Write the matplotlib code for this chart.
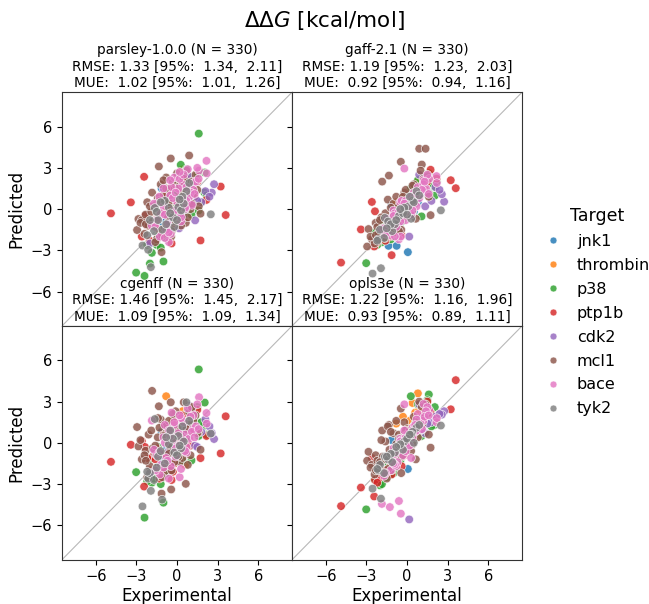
import matplotlib
matplotlib.use("Agg")
import matplotlib.pyplot as plt
from matplotlib.lines import Line2D

# targets (legend order) and colours
targets = ["jnk1", "thrombin", "p38", "ptp1b", "cdk2", "mcl1", "bace", "tyk2"]
colors = ["#1f77b4", "#ff7f0e", "#2ca02c", "#d62728", "#9467bd", "#8c564b", "#e377c2", "#7f7f7f"]

# experimental ddG per edge, grouped by target (one entry per target)
experimental = [
    [-1.14, -1.37, -0.77, 0.06, -0.5, 0.3, -0.9, 0.8, -0.2, 0.5,
     -0.6, -1.0, -0.3, 0.2, -0.8, 0.0, -1.2, 0.4],
    [0.4, -0.8, 0.8, 0.1, -0.3, 1.3, 0.6, 0.2, 0.9, -0.1],
    [1.61, 2.05, -3.02, -2.4, -1.0, -2.0, 0.28, 2.03, 1.07, -1.86, 0.8, 1.3, -0.5, 0.2, -1.5, 0.6, 1.8, -0.8, 0.0, 1.5, -1.2, 0.9, -0.3, 2.2, 0.5, -1.7,
     -0.1, 0.4, 1.0, -1.1, -0.6, 0.7, 1.6, -2.2, -0.4, 1.2, 0.1, -1.4],
    [-4.88, -3.41, 3.6, 3.23, -2.43, -2.6, 1.74, 2.18, -2.37, -1.14, -1.8, -0.6, 0.3, -1.3, 0.9, -0.2, 1.2, -2.0, 0.5, -0.9, 1.5, -1.6, 0.0, -0.4,
     -1.0, -0.3, 0.2, 0.7, -1.5, 1.0, -0.7, -2.2, 0.4, 1.3],
    [2.74, 2.57, 1.34, 0.16, -2.0, 0.5, 1.0, -0.6, 1.8, 0.9,
     1.5, 2.1, 0.3, 1.1, 2.4],
    [-2.95, -2.85, -1.34, -0.46, 0.9, 1.37, 1.09, -1.84, -1.14, -0.43, 0.65, 1.61, 1.74, -2.6, -2.32, -1.42, -2.1, -1.6, -1.0, -0.7,
     -0.2, 0.2, 0.5, 1.2, -2.4, -1.9, -0.9, 0.0, 0.8, 1.5, -1.2, -0.5, 0.3, -2.2, -1.5, -0.1, 1.0, -2.7, -0.8, 0.4,
     -1.8, -1.3, -0.6, 0.1, 0.6, -2.0, -1.1, -0.3, 0.9, -1.6, -0.8, 0.2, -2.3, -0.4, 1.1, -1.0, -0.2, 0.7, -1.4, -0.6],
    [2.18, 1.63, -1.86, -1.27, -0.6, -0.46, 1.22, -0.2, 2.2, -1.5, -1.0, -0.5, 0.0, 0.4, 0.8, 1.2, -0.8, -0.3, 0.2, 0.6,
     1.0, 1.5, -1.2, -0.7, 0.1, 0.5, -1.7, -0.1, 0.9, 1.4, -0.4, 0.3, 0.7, -0.9,
     -1.3, -0.9, -0.5, -0.1, 0.3, 0.7, 1.1, -1.6, -0.6, 0.2, 0.6, 1.3, -1.0, -0.2, 0.4, 1.6],
    [2.5, -2.55, -2.13, -1.93, -1.64, 0.7, -0.6, 0.1, -1.4, -2.0, -1.1, -0.3, 0.4, -0.9, 0.9, -1.7, -0.2, 0.3,
     -1.2, -0.5, 0.0, 0.5, -1.5, -0.8, 0.2, -2.2],
]

pred_parsley = [
    [1.52, -1.2, -0.6, -0.8, 0.4, 0.9, -0.3, 1.2, 0.2, -0.4,
     0.7, -1.6, 0.3, -0.2, -0.9, 1.0, -0.4, 0.1],
    [2.88, 1.2, 2.2, 0.8, 1.5, 1.9, 0.3, 1.0, 1.6, 0.4],
    [5.49, 2.66, -4.62, -4.86, -3.81, -3.96, 3.22, 1.2, -0.4, -3.18, 2.4, 2.0, -1.2, 0.8, -2.6, 1.6, 0.5, -2.1, -0.6, 2.5, -2.8, 1.9, 0.3, 1.0, -0.2, -1.0,
     1.1, -0.9, 0.6, -0.3, 0.4, 2.9, -0.1, -2.6, -1.5, 1.4, 1.8, -2.0],
    [-0.31, 0.49, -0.43, 1.64, 2.35, -2.0, -2.28, 0.67, -0.5, -1.8, -1.2, 0.2, 1.3, -1.5, 1.0, -0.6, 1.7, -2.3, 0.1, -0.2, 2.0, -1.0, 0.6, -2.5,
     0.9, -1.3, -0.4, 2.2, -0.7, 0.4, 1.1, -1.2, 1.8, 0.9],
    [1.81, 1.2, -0.82, -1.4, -2.5, 0.3, 0.9, -0.9, 0.5, 2.4,
     0.6, 1.3, -0.5, 1.8, 0.9],
    [-1.52, -0.72, 3.1, 3.68, 3.9, 2.5, 2.0, 1.2, -3.13, -2.0, -1.0, 0.2, -0.33, -0.8, -0.4, 0.8, -1.2, 0.3, 1.0, -0.5,
     1.6, 0.4, 2.2, 1.1, -1.8, -0.2, -1.4, 2.6, -0.6, 1.4, 1.8, 0.9, -1.2, 0.5, -2.2, -0.9, 0.0, -1.0, 2.3, 1.3,
     -0.9, 0.6, 1.4, -0.7, 0.9, 0.2, -1.9, 2.0, 1.1, -2.4, 1.5, 1.7, -1.1, -1.6, 0.4, 2.1, -0.4, 2.8, -0.6, 0.5],
    [3.51, 2.8, -1.2, -2.0, -2.4, -1.8, 1.9, 2.3, 2.6, -0.8, 0.2, 1.0, 0.5, 1.8, 2.9, 1.4, -1.5, 0.8, 2.2, 0.0,
     1.2, 3.0, -0.3, -1.1, 1.5, 2.5, 0.4, -0.5, 0.9, 2.0, 1.6, -0.9, 0.6, -2.1,
     0.9, -0.4, 2.1, 1.2, -0.6, 1.6, 0.3, -1.3, -1.7, 2.7, 0.1, 1.1, 1.5, -0.1, 0.7, 2.2],
    [-0.38, -2.65, -2.96, -4.22, 0.08, 1.3, 0.1, 0.15, -0.8, -0.8, -1.5, -0.6, 0.9, 0.6, 1.9, -1.6, -1.3, -0.1,
     0.5, -0.3, -0.8, 0.4, -0.2, -1.1, 0.7, -1.9],
]

pred_gaff = [
    [0.3, -2.67, -2.67, -3.13, -1.0, 0.2, -1.5, 0.5, -0.6, -0.2,
     -0.8, -1.9, -0.5, 0.0, -1.3, -0.1, -1.7, 0.3],
    [1.2, 0.5, 2.0, 0.4, 0.9, 1.7, 1.1, 0.6, 1.3, -0.2],
    [2.61, 0.98, -3.93, -1.7, -1.8, -1.0, 1.5, 1.6, -0.53, -2.4, 2.1, 1.2, -1.0, 0.4, -2.0, 0.9, 1.9, -1.5, 0.1, 2.3, -2.2, 1.4, -0.4, 2.0, 0.6, -1.3,
     0.2, -0.2, 1.3, -1.0, -0.7, 1.1, 1.2, -2.6, -0.9, 1.7, 0.4, -1.1],
    [-3.89, -1.48, 1.52, 2.1, -2.72, 0.52, 2.86, 2.22, -0.16, -3.35, -1.5, -0.8, 0.7, -2.0, 1.3, -0.3, 1.8, -1.6, 0.4, -1.2, 2.0, -2.3, -0.5, -1.9,
     -1.7, -0.1, 0.0, 1.0, -1.8, 1.1, -0.8, -2.4, 0.6, 1.4],
    [0.54, 1.08, 0.2, -2.0, -1.9, 0.8, 1.1, -1.0, 0.6, 2.5,
     1.2, 1.6, 0.1, 1.5, 1.4],
    [-2.72, -1.45, 2.44, 3.44, 4.39, 4.39, 3.24, 2.0, -1.2, -1.5, -0.7, 0.9, -0.44, -2.2, -1.0, 0.69, -1.8, -0.3, 0.4, -0.9,
     1.2, 0.3, 1.8, 2.2, -2.5, -0.6, -1.1, 0.8, 1.5, 2.4, 0.1, 0.5, -0.4, -1.3, -1.7, 1.4, 2.8, -2.0, 0.9, 1.7,
     -1.4, -0.9, 0.2, 0.5, 1.0, -0.8, -1.3, 0.9, 1.3, -2.1, -0.2, 0.8, -1.9, -0.6, 1.6, -0.4, 0.3, 1.2, -1.0, -1.6],
    [2.4, 2.2, -1.5, -1.9, -2.2, -2.0, 2.1, 2.95, 1.9, -0.7, -0.1, 0.5, 0.0, 1.0, 1.6, 1.8, -1.3, -0.2, 0.7, 0.4,
     1.3, 2.5, -1.0, -0.6, 0.3, 1.2, -1.4, -0.8, 0.8, 1.5, 0.6, -0.4, 1.1, -1.99,
     -1.1, -0.3, -0.9, 0.6, 0.9, 0.2, 1.4, -1.8, -0.2, 0.1, 1.0, 2.0, -0.5, 0.4, -0.1, 1.1],
    [-0.09, -4.69, -2.2, -4.3, -0.64, 1.3, -0.5, 0.2, -0.9, -1.5, -1.6, -0.3, 0.6, -1.1, 1.0, -2.1, 0.1, -0.7,
     -1.1, 0.0, -0.4, 0.5, -1.4, -0.8, 0.9, -2.3],
]

pred_cgenff = [
    [0.8, -0.9, -0.3, -0.5, -0.2, 1.4, -1.1, 0.6, 0.1, -0.5,
     -0.1, -1.4, 0.6, -0.4, -1.7, 0.5, -0.9, 1.1],
    [2.3, 3.39, 1.9, 0.6, 1.6, 2.4, -1.6, 0.9, 1.3, -0.4],
    [5.34, 2.93, -2.13, -5.44, -4.35, -1.19, 1.2, 1.25, -1.28, -2.9, 2.27, 1.8, -1.6, 0.7, -2.4, 1.1, 1.5, -2.2, -0.9, 2.6, -3.0, 1.7, -0.1, 0.6, -0.7, -2.6,
     0.3, -1.3, 1.9, -1.9, 0.1, 0.3, 0.5, -2.8, -2.0, 2.4, 1.0, -0.3],
    [-1.38, -0.14, 1.93, -0.77, -3.18, 0.13, -1.11, 0.5, -0.3, -2.2, -1.0, 0.8, 1.6, -2.6, 0.9, -1.5, 2.2, -2.0, 0.3, -0.8, 2.4, -1.2, 0.1, -2.7,
     0.6, -2.1, 1.1, 1.4, -0.4, -0.2, -1.7, -1.1, 2.0, 0.8],
    [0.28, 0.71, -0.2, -1.0, -2.2, 1.0, 1.4, -0.6, 0.8, 2.7,
     -0.3, 1.7, 0.5, 2.1, 1.2],
    [1.15, -0.26, 2.66, 2.95, 2.2, 2.0, 2.5, 3.78, -3.69, -3.39, -2.98, 0.8, -0.5, -1.2, -0.57, 0.4, 0.6, -0.8, 1.3, 0.0,
     1.9, -1.4, 2.95, 1.6, -0.9, 0.9, -2.1, 1.1, -1.6, 0.7, 1.7, -0.3, 0.5, -2.5, -1.8, 2.3, -0.9, 0.2, 1.2, -1.1,
     -0.4, 1.1, 1.6, -1.0, 0.3, -1.7, -2.5, 2.1, 1.4, -0.2, 0.7, -0.6, -1.3, -2.0, 2.6, 0.5, -1.4, 1.0, 1.8, -0.8],
    [2.17, 3.32, 1.62, -2.3, -2.6, -1.7, 2.0, 1.3, 1.4, -0.9, 0.4, 0.9, -0.2, 1.6, 2.5, 1.0, -1.1, 0.2, -2.5, 0.6,
     1.9, 2.8, -1.6, -1.3, 0.7, 1.5, -0.5, -0.4, 0.3, 1.2, 2.2, -1.9, -0.7, 0.0,
     -0.7, 1.3, 0.5, -1.0, 1.8, -0.3, 0.8, -2.0, 0.9, 2.0, -0.6, 0.4, -1.8, 1.5, 0.2, 1.0],
    [0.67, -4.62, -2.6, -3.49, 1.73, 2.95, -0.1, 0.5, -1.0, -2.2, -4.13, 0.3, 1.2, -1.5, 1.6, -2.7, -0.7, -0.4,
     -0.6, 0.9, -0.9, 0.1, -1.8, 0.4, -0.2, -2.1],
]

pred_opls = [
    [0.2, -1.8, -1.5, -1.9, -0.7, 0.5, -1.2, 1.0, -0.4, 0.3,
     -1.0, -1.3, -0.2, 0.6, -0.8, -0.3, -1.6, 0.5],
    [2.9, 1.4, 3.6, 1.0, 1.9, 2.6, 2.2, 1.6, 2.4, 0.7],
    [3.52, 2.6, -4.84, -2.69, -2.2, -3.09, 3.39, 1.3, 0.5, -3.0, 2.8, 1.9, -1.3, 0.5, -2.5, 1.4, 1.2, -1.8, -0.4, 3.1, -2.3, 1.6, 0.0, 1.9, 0.9, -2.0,
     0.1, 0.9, 1.5, -0.9, -0.6, 1.2, 2.2, -2.1, -1.0, 1.4, 0.8, -1.5],
    [-4.6, -3.25, 4.56, 2.44, -3.9, -1.1, 2.2, 1.7, -2.7, -2.3, -2.1, -0.6, 0.9, -1.8, 1.4, -0.9, 2.0, -2.5, 0.2, -1.5, 3.0, -2.0, -0.3, -1.7,
     -1.4, -0.3, 0.5, 1.1, -2.2, 1.6, -0.9, -2.9, 0.3, 1.8],
    [2.3, 2.05, 0.7, -5.57, -1.5, 1.2, 0.9, -0.4, 1.5, 2.8,
     1.4, 1.9, 0.6, 1.0, 2.1],
    [-1.3, -0.65, 1.3, 2.49, 3.0, 2.8, 2.6, 0.9, -2.0, -2.2, -1.2, 0.6, -0.35, -1.6, -0.9, 1.2, -1.9, 0.1, 0.7, -0.8,
     1.5, -0.3, 1.9, 1.8, -2.3, 0.2, -1.5, 1.0, 0.4, 2.1, 0.8, 0.0, -0.6, -1.3, -2.6, 0.9, 1.4, -1.8, 1.6, -0.1,
     -1.0, -0.5, 0.6, -0.2, 1.2, -1.4, -1.7, 0.4, 1.7, -1.2, -0.1, 0.9, -2.0, -1.0, 1.3, -0.6, 0.2, 1.0, -1.9, 0.3],
    [1.5, 2.4, -4.44, -4.67, -4.23, -5.15, 2.83, 2.8, 1.8, -1.0, -0.4, 0.3, 0.6, 1.1, 2.1, 1.6, -1.7, -0.9, 0.5, 0.8,
     1.4, 2.6, -2.0, -1.4, 0.0, 1.0, -2.4, -0.6, 1.2, 2.3, 0.2, -1.1, 0.9, -1.6,
     -1.2, -0.8, 0.1, 0.4, 0.7, 1.7, 1.0, -2.2, -0.3, -0.2, 1.3, 1.9, -1.5, 0.9, 0.4, 2.0],
    [1.26, -3.33, -2.0, -4.06, -1.0, 1.1, -0.2, 0.4, -1.2, -1.6, -1.4, -0.5, 0.8, -0.7, 1.3, -2.2, 0.1, 0.6,
     -0.8, -0.1, 0.3, 0.0, -1.0, -0.3, 0.6, -1.9],
]

# panel titles and statistics
forcefields = ["parsley-1.0.0", "gaff-2.1", "cgenff", "opls3e"]
n_edges = 330
rmse = [1.33, 1.19, 1.46, 1.22]
rmse_ci = [(1.34, 2.11), (1.23, 2.03), (1.45, 2.17), (1.16, 1.96)]
mue = [1.02, 0.92, 1.09, 0.93]
mue_ci = [(1.01, 1.26), (0.94, 1.16), (1.09, 1.34), (0.89, 1.11)]
predictions = [pred_parsley, pred_gaff, pred_cgenff, pred_opls]

ticks = [-6, -3, 0, 3, 6]
lim = (-8.5, 8.5)

fig = plt.figure(figsize=(6.49, 6.04), dpi=100)

# panel rectangles (figure fraction)
left = [0.0955, 0.4500]
bottom = [0.4603, 0.0733]
w, h = 0.3544, 0.3870

axes = []
for k in range(4):
    row, col = divmod(k, 2)
    ax = fig.add_axes([left[col], bottom[row], w, h])
    axes.append(ax)

for k, ax in enumerate(axes):
    row, col = divmod(k, 2)
    # flatten in target order so later targets sit on top
    xs, ys, cs = [], [], []
    for t, c in enumerate(colors):
        xs += experimental[t]
        ys += predictions[k][t]
        cs += [c] * len(experimental[t])
    ax.plot(lim, lim, color="0.72", lw=0.8, zorder=1)
    ax.scatter(xs, ys, s=38, c=cs, alpha=0.82, edgecolors="white", linewidths=0.5, zorder=2)

    ax.set_xlim(lim)
    ax.set_ylim(lim)
    ax.set_xticks(ticks)
    ax.set_yticks(ticks)
    ax.tick_params(labelsize=10.5, length=3.5, width=0.8)
    for s in ax.spines.values():
        s.set_linewidth(0.8)
        s.set_color("#333333")

    if col == 0:
        ax.set_ylabel("Predicted", fontsize=12)
    else:
        ax.tick_params(labelleft=False)
    if row == 1:
        ax.set_xlabel("Experimental", fontsize=12, labelpad=2)
    else:
        ax.tick_params(labelbottom=False)

    title = (f"{forcefields[k]} (N = {n_edges})\n"
             f"RMSE: {rmse[k]:.2f} [95%:  {rmse_ci[k][0]:.2f},  {rmse_ci[k][1]:.2f}]\n"
             f"MUE:  {mue[k]:.2f} [95%:  {mue_ci[k][0]:.2f},  {mue_ci[k][1]:.2f}]")
    ax.set_title(title, fontsize=9.8, pad=4, linespacing=1.2)

fig.suptitle(r"$\Delta\Delta G$ [kcal/mol]", fontsize=15.5, y=0.985)

handles = [Line2D([], [], marker="o", ls="", color=c, alpha=0.82, markeredgecolor="white",
                  markeredgewidth=0.5, markersize=5) for c in colors]
leg = fig.legend(handles, targets, title="Target", loc="center left",
                 bbox_to_anchor=(0.815, 0.484), frameon=False, fontsize=11.5,
                 title_fontsize=12.5, handletextpad=0.9, labelspacing=0.56,
                 handlelength=1.2)

fig.savefig("out.png", dpi=100)
